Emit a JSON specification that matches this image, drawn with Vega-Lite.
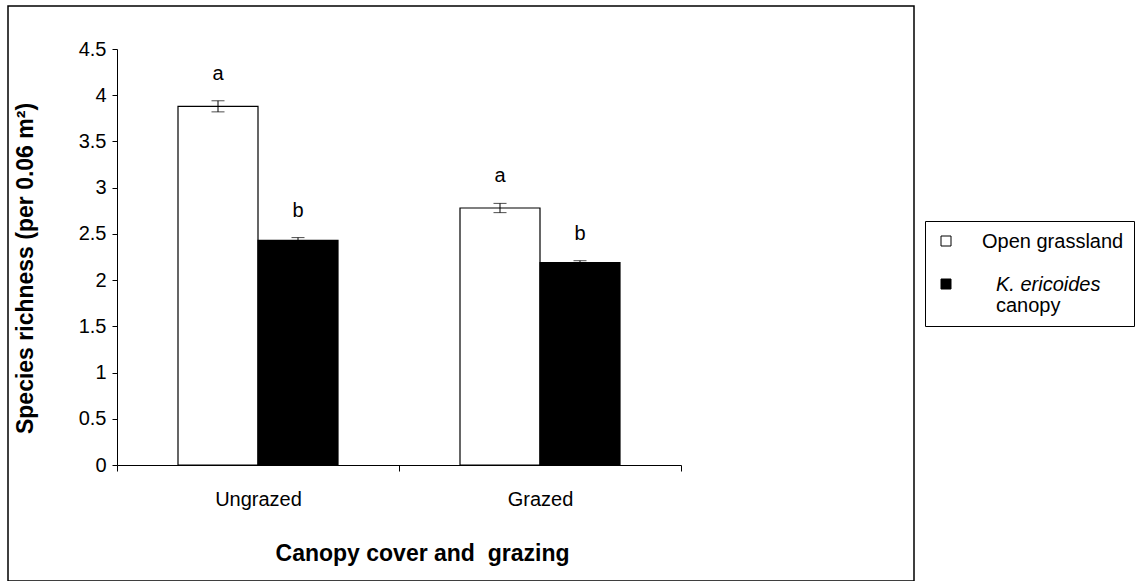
{
  "$schema": "https://vega.github.io/schema/vega-lite/v6.json",
  "width": 906,
  "height": 575,
  "autosize": "none",
  "padding": {"left": 8, "top": 6, "right": 227, "bottom": 0},
  "background": "white",
  "config": {
    "font": "Liberation Sans",
    "view": {"stroke": "#000", "strokeWidth": 1.5},
    "axis": {"domainColor": "#000", "tickColor": "#000", "labelColor": "#000", "titleColor": "#000", "grid": false, "domainWidth": 1, "tickWidth": 1}
  },
  "data": {
    "values": [
      {"group": "Ungrazed", "series": "Open grassland", "value": 3.88, "lo": 3.82, "hi": 3.94, "letter": "a"},
      {"group": "Ungrazed", "series": "K. ericoides canopy", "value": 2.43, "lo": 2.40, "hi": 2.46, "letter": "b"},
      {"group": "Grazed", "series": "Open grassland", "value": 2.78, "lo": 2.73, "hi": 2.83, "letter": "a"},
      {"group": "Grazed", "series": "K. ericoides canopy", "value": 2.19, "lo": 2.17, "hi": 2.21, "letter": "b"}
    ]
  },
  "encoding": {
    "x": {
      "field": "group", "type": "nominal", "sort": ["Ungrazed", "Grazed"],
      "scale": {"range": [109, 673], "paddingInner": 0, "paddingOuter": 0},
      "axis": {
        "orient": "bottom", "offset": -116, "labelAngle": 0, "tickBand": "extent", "tickSize": 6,
        "labelFontSize": 20, "labelPadding": 18,
        "title": "Canopy cover and \u00a0grazing", "titleFontSize": 23, "titleFontWeight": "bold",
        "titleX": 414, "titleY": 88, "titleBaseline": "middle"
      }
    },
    "xOffset": {
      "field": "series", "type": "nominal", "sort": ["Open grassland", "K. ericoides canopy"],
      "scale": {"paddingOuter": 0.7625, "paddingInner": 0}
    }
  },
  "layer": [
    {
      "mark": {"type": "bar", "stroke": "#000", "strokeWidth": 1.2},
      "encoding": {
        "y": {
          "field": "value", "type": "quantitative",
          "scale": {"domain": [0, 4.5], "range": [459, 43], "nice": false, "zero": true},
          "axis": {
            "values": [0, 0.5, 1, 1.5, 2, 2.5, 3, 3.5, 4, 4.5], "format": "~g", "offset": -109, "tickSize": 5,
            "labelFontSize": 20, "labelPadding": 6,
            "title": "Species richness (per 0.06 m²)", "titleFontSize": 23, "titleFontWeight": "bold",
            "titleX": -92, "titleY": 262, "titleBaseline": "middle"
          }
        },
        "fill": {
          "field": "series", "type": "nominal",
          "scale": {"domain": ["Open grassland", "K. ericoides canopy", "canopy"], "range": ["#ffffff", "#000000", "#ffffff"]},
          "legend": {
            "orient": "none", "legendX": 917, "legendY": 215, "title": null,
            "padding": 10, "fillColor": "#fff", "strokeColor": "#000",
            "symbolType": "square", "symbolSize": 100, "symbolStrokeColor": "#000", "symbolStrokeWidth": 1, "symbolOffset": 1,
            "labelFontSize": 20, "labelOffset": 26, "labelColor": "#000", "rowPadding": 0, "labelBaseline": "top",
            "labelExpr": "datum.label == 'Open grassland' ? ['Open grassland\u00a0\u00a0\u00a0\u00a0', ''] : (datum.label == 'K. ericoides canopy' ? 'K. ericoides' : datum.label)",
            "encode": {
              "symbols": {"update": {"opacity": {"signal": "datum.value == 'canopy' ? 0 : 1"}}},
              "labels": {"update": {
                "fontStyle": {"signal": "datum.value == 'K. ericoides canopy' ? 'italic' : 'normal'"},
                "dx": {"signal": "datum.value == 'Open grassland' ? 0 : 14"},
                "dy": {"value": -9},
                "lineHeight": {"value": 22}
              }}
            }
          }
        }
      }
    },
    {
      "mark": {"type": "rule", "color": "#000", "strokeWidth": 1},
      "encoding": {"y": {"field": "lo", "type": "quantitative"}, "y2": {"field": "hi"}}
    },
    {
      "mark": {"type": "tick", "color": "#000", "thickness": 1},
      "encoding": {"y": {"field": "lo", "type": "quantitative"}, "size": {"value": 13}}
    },
    {
      "mark": {"type": "tick", "color": "#000", "thickness": 1},
      "encoding": {"y": {"field": "hi", "type": "quantitative"}, "size": {"value": 13}}
    },
    {
      "mark": {"type": "text", "fontSize": 20, "baseline": "alphabetic", "dy": -21, "color": "#000"},
      "encoding": {"y": {"field": "hi", "type": "quantitative"}, "text": {"field": "letter"}}
    }
  ]
}
